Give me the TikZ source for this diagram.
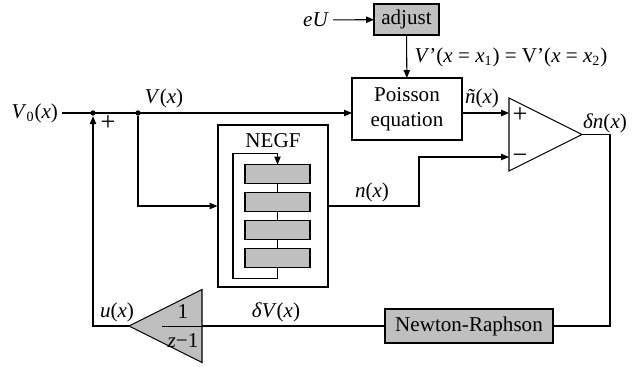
\documentclass[tikz,border=0pt]{standalone}
\usepackage{fontspec}
\setmainfont{Liberation Serif}
\usetikzlibrary{arrows.meta, positioning, shapes.geometric, calc}
\newcommand{\vi}[1]{\textit{#1}}

\begin{document}
\begin{tikzpicture}[
        x=0.02cm, y=-0.02cm, line width=0.6pt,
        every node/.style={font=\fontsize{12}{14}\selectfont},
        block/.style={draw, minimum width=2.2cm, minimum height=1.24cm, align=center, inner sep=0pt, outer sep=0pt},
        shaded/.style={block, fill=black!25},
        amp/.style={draw, isosceles triangle, isosceles triangle stretches, inner sep=0pt, outer sep=0pt, minimum width=1.46cm, minimum height=1.46cm},
        junction/.style={circle, fill, inner sep=0pt, minimum size=3pt},
        lbl/.style={inner sep=0pt},
        sign/.style={inner sep=0pt, font=\fontsize{15}{15}\selectfont},
        sig/.style={-{Triangle[length=4.5pt, width=3.6pt]}}
    ]
    \useasboundingbox (0,0) rectangle (644,367);

    % Boundary condition
    \node[lbl, inner xsep=2pt, anchor=east] (eU) at (333,20) {\vi{eU}};
    \node[shaded, minimum width=1.3cm, minimum height=0.62cm] (Adjust) at (406.5,19.5) {adjust};
    \draw[sig] (eU) -- (Adjust);

    % Poisson solver
    \node[block] (Poisson) at (407,109) {Poisson\\equation};
    \draw[sig] (Adjust) -- (Poisson);
    \node[lbl, anchor=west] (BC) at (414,57) {\vi{V}'(\vi{x} = \vi{x}\textsubscript{1}) = V'(\vi{x} = \vi{x}\textsubscript{2})};

    % Input line
    \node[lbl, inner xsep=2pt, anchor=east] (V0) at (62,113) {\vi{V}\textsubscript{0}(\vi{x})};
    \node[junction] (J1) at (93,113) {};
    \node[junction] (J2) at (138,113) {};
    \draw[sig] (V0) -- (Poisson.west |- V0);
    \node[lbl] (Vx) at (164,98) {\vi{V}(\vi{x})};

    % Comparator
    \node[amp, anchor=west] (Cmp) at (509,134.5) {};
    \coordinate (CmpP) at (509,113);
    \coordinate (CmpM) at (509,157);
    \node[sign] (Plus2) at (520,115) {+};
    \node[sign] (Minus2) at (520,159) {−};
    \node[lbl] (nt) at (482,98) {\vi{ñ}(\vi{x})};
    \draw[sig] (Poisson.east |- CmpP) -- (CmpP);
    \node[lbl] (dn) at (605,123) {\vi{δn}(\vi{x})};

    % NEGF
    \node[draw, minimum width=2.2cm, minimum height=3.24cm] (NEGF) at (273,206) {};
    \node[lbl] (NEGFtxt) at (273,141) {NEGF};
    \foreach \i/\y in {1/174,2/202,3/230,4/258}
        \node[shaded, minimum width=1.3cm, minimum height=0.38cm] (G\i) at (277.5,\y) {};
    \draw (G1) -- (G2) (G2) -- (G3) (G3) -- (G4);
    \draw[sig] (G4.south) -- ++(0,11) -- ++(-44.5,0) |- ($(G1.north)+(0,-11)$) -- (G1.north);
    \draw[sig] (J2) |- (NEGF.west);
    \draw[sig] (NEGF.east) -| ($(CmpM)+(-90,0)$) -- (CmpM);
    \node[lbl] (nx) at (372,192) {\vi{n}(\vi{x})};

    % Feedback
    \node[shaded, minimum width=3.36cm, minimum height=0.68cm] (NR) at (469,326) {Newton-Raphson};
    \draw (Cmp.east) -- ++(28,0) |- (NR.east);
    \node[amp, fill=black!25, shape border rotate=180, anchor=east] (Gain) at (202,326) {};
    \node[lbl, align=center] (GainTxt) at (183,326) {1\\[-9pt]\rule{24pt}{0.5pt}\\[-2pt]\vi{z}−1};
    \draw (NR.west) -- (Gain.east);
    \node[lbl] (dV) at (276,312) {\vi{δV}(\vi{x})};
    \node[lbl] (ux) at (117,312) {\vi{u}(\vi{x})};
    \draw[sig] (Gain.apex) -| (J1);
    \node[sign] (Plus1) at (108,123) {+};

\end{tikzpicture}
\end{document}
